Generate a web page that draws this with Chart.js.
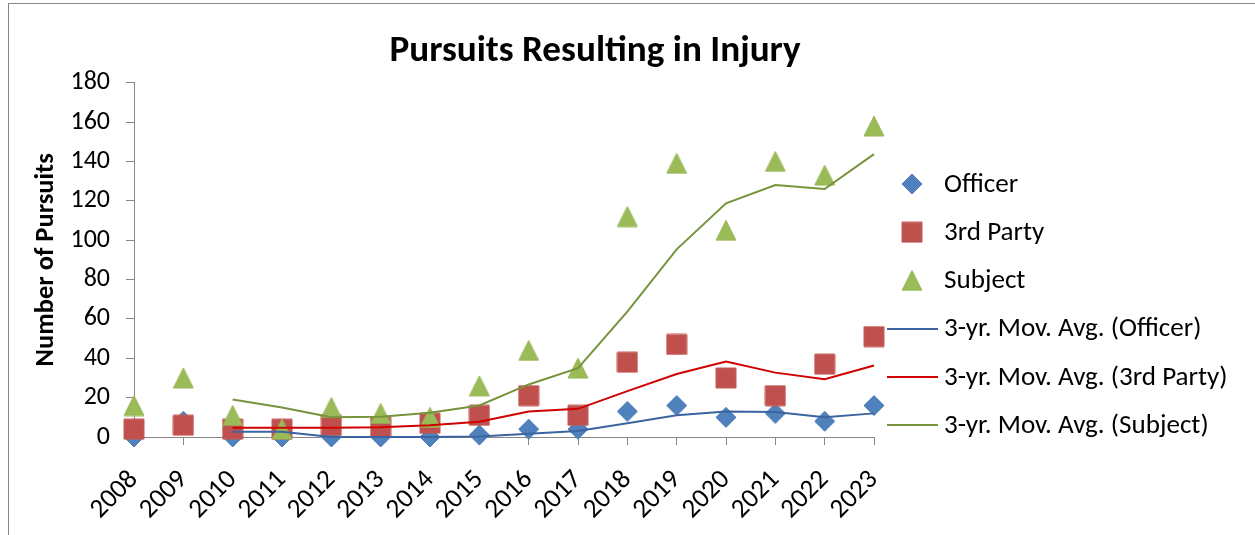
<!DOCTYPE html>
<html>
<head>
<meta charset="utf-8">
<script src="https://cdn.jsdelivr.net/npm/chart.js@4"></script>
<style>
html,body{margin:0;padding:0;background:#fff;width:1255px;height:535px;overflow:hidden}
#frame{position:absolute;left:8px;top:3px;width:1400px;height:700px;border-top:1px solid #868686;border-left:1px solid #868686;box-sizing:border-box}
#wrap{position:absolute;left:0;top:0;width:1255px;height:535px}
canvas{display:block}
</style>
</head>
<body>
<div id="frame"></div>
<div id="wrap"><canvas id="c" width="1255" height="535"></canvas></div>
<script>
// ---- data ----
const years = ['2008','2009','2010','2011','2012','2013','2014','2015','2016','2017','2018','2019','2020','2021','2022','2023'];
const officer    = [0, 8, 0, 0, 0, 0, 0, 1, 4, 4, 13, 16, 10, 12, 8, 16];
const thirdParty = [4, 6, 4, 4, 6, 5, 7, 11, 21, 11, 38, 47, 30, 21, 37, 51];
const subject    = [16, 30, 11, 4, 15, 12, 10, 26, 44, 35, 112, 139, 105, 140, 133, 158];
const maOfficer    = [null, null, 2.7, 2.7, 0, 0, 0, 0.3, 1.7, 3, 7, 11, 13, 12.7, 10, 12];
const maThirdParty = [null, null, 4.7, 4.7, 4.7, 5, 6, 7.7, 13, 14.3, 23.3, 32, 38.3, 32.7, 29.3, 36.3];
const maSubject    = [null, null, 19, 15, 10, 10.3, 12.3, 16, 26.7, 35, 63.7, 95.3, 118.7, 128, 126, 143.7];
const yTicks = [0, 20, 40, 60, 80, 100, 120, 140, 160, 180];
const seriesNames = ['Officer', '3rd Party', 'Subject', '3-yr. Mov. Avg. (Officer)', '3-yr. Mov. Avg. (3rd Party)', '3-yr. Mov. Avg. (Subject)'];
const chartTitle = 'Pursuits Resulting in Injury';
const yTitle = 'Number of Pursuits';

// ---- styling helpers ----
const FAMILY = 'Carlito, Lato, "Open Sans", sans-serif';
function fit(text, weight, target) {
  const c = document.createElement('canvas').getContext('2d');
  c.font = weight + ' 100px ' + FAMILY;
  return Math.round(1000 * target / c.measureText(text).width) / 10;
}
const titleSize = fit(chartTitle, 'bold', 411);
const tickSize = fit('180', 'normal', 39.5);
const yTitleSize = fit(yTitle, 'bold', 213);
const legendSize = fit('3-yr. Mov. Avg. (3rd Party)', 'normal', 284);

function marker(shape, fill, stroke) {
  const S = 22;
  const c = document.createElement('canvas');
  c.width = S; c.height = S;
  const g = c.getContext('2d');
  g.fillStyle = fill; g.strokeStyle = stroke; g.lineWidth = 1;
  g.beginPath();
  if (shape === 'diamond') { g.moveTo(11, 1); g.lineTo(21, 11); g.lineTo(11, 21); g.lineTo(1, 11); g.closePath(); }
  else if (shape === 'square') { g.rect(1, 1, 20, 20); }
  else { g.moveTo(11, 1); g.lineTo(21, 21); g.lineTo(1, 21); g.closePath(); }
  g.fill(); g.stroke();
  return c;
}
const mDiamond = marker('diamond', '#4F81BD', '#4A7BB7');
const mSquare = marker('square', '#C0504D', '#C45A57');
const mTriangle = marker('triangle', '#9BBB59', '#98B856');

function scatterSet(label, values, img, color, order) {
  return { label, data: values, showLine: false, pointStyle: img, pointRadius: 10, pointHoverRadius: 10,
           borderColor: color, backgroundColor: color, clip: false, order };
}
function maSet(label, values, color, order) {
  return { label, data: values, borderColor: color, backgroundColor: color, borderWidth: 2, pointRadius: 0,
           pointHoverRadius: 0, tension: 0, fill: false, clip: false, order };
}

const titleShift = {
  id: 'titleShift',
  afterLayout(chart) {
    const t = chart.titleBlock;
    if (t) { t.left = 0; t.right = 1190; t.width = 1190; }
  }
};

const excelLegend = {
  id: 'excelLegend',
  afterDraw(chart) {
    const ctx = chart.ctx;
    ctx.save();
    ctx.font = legendSize + 'px ' + FAMILY;
    ctx.textBaseline = 'middle';
    ctx.textAlign = 'left';
    chart.data.datasets.forEach((ds, i) => {
      const y = 184 + i * 48.2;
      if (ds.showLine === false) {
        const img = ds.pointStyle;
        ctx.drawImage(img, 912 - img.width / 2, y - img.height / 2);
      } else {
        ctx.strokeStyle = ds.borderColor; ctx.lineWidth = 2;
        ctx.beginPath(); ctx.moveTo(887, Math.round(y)); ctx.lineTo(938, Math.round(y)); ctx.stroke();
      }
      ctx.fillStyle = '#000';
      ctx.fillText(ds.label, 944, y + 1);
    });
    ctx.restore();
  }
};

const titleLH = 1.2;
const titlePadTop = Math.round(51 - titleSize * titleLH / 2);
const titlePadBottom = Math.round(83 - titlePadTop - titleSize * titleLH);

new Chart(document.getElementById('c'), {
  type: 'line',
  data: {
    labels: years,
    datasets: [
      scatterSet(seriesNames[0], officer, mDiamond, '#4F81BD', 6),
      scatterSet(seriesNames[1], thirdParty, mSquare, '#C0504D', 5),
      scatterSet(seriesNames[2], subject, mTriangle, '#9BBB59', 4),
      maSet(seriesNames[3], maOfficer, '#3B64A0', 3),
      maSet(seriesNames[4], maThirdParty, '#D00000', 2),
      maSet(seriesNames[5], maSubject, '#77933C', 1)
    ]
  },
  options: {
    responsive: false,
    animation: false,
    devicePixelRatio: 1,
    events: [],
    layout: { padding: { left: 0, right: 381, top: 0, bottom: 0 } },
    plugins: {
      legend: { display: false },
      tooltip: { enabled: false },
      title: {
        display: true, text: chartTitle, color: '#000',
        font: { family: FAMILY, size: titleSize, weight: 'bold', lineHeight: titleLH },
        padding: { top: titlePadTop, bottom: titlePadBottom }
      }
    },
    scales: {
      x: {
        offset: false,
        grid: { drawOnChartArea: false, drawTicks: true, tickLength: 8, color: '#868686', offset: false },
        border: { display: true, color: '#868686', width: 1 },
        ticks: { autoSkip: false, maxRotation: 45, minRotation: 45, color: '#000',
                 font: { family: FAMILY, size: tickSize * 1.04 }, padding: 19 },
        afterFit(s) { s.height = 98; s.paddingLeft = 0; s.paddingRight = 0; }
      },
      y: {
        min: 0, max: 180,
        afterBuildTicks(s) { s.ticks = yTicks.map(v => ({ value: v })); },
        grid: { drawOnChartArea: false, drawTicks: true, tickLength: 8, color: '#868686' },
        border: { display: true, color: '#868686', width: 1 },
        ticks: { color: '#000', font: { family: FAMILY, size: tickSize }, padding: 16 },
        title: { display: true, text: yTitle, color: '#000',
                 font: { family: FAMILY, size: yTitleSize, weight: 'bold', lineHeight: 1.2 },
                 padding: { top: Math.round(46 - yTitleSize * 0.6), bottom: 0 } },
        afterFit(s) { s.width = 134; }
      }
    }
  },
  plugins: [titleShift, excelLegend]
});
</script>
</body>
</html>
